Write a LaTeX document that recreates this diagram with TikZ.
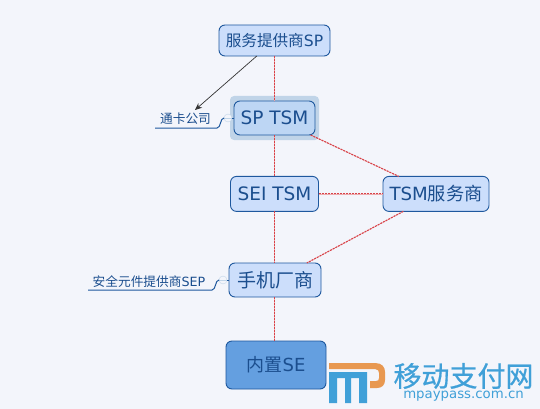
\documentclass[tikz,border=0pt]{standalone}
\usepackage{fontspec}
\setmainfont{DejaVu Sans}
\newfontfamily\cjk{Noto Sans CJK SC}
\newfontfamily\logocjk[FakeBold=0.6]{Noto Sans CJK SC}
\usetikzlibrary{arrows.meta,positioning,calc}
\definecolor{softbg}{RGB}{243,245,251}
\definecolor{softblue}{RGB}{204,222,251}
\definecolor{softtsm}{RGB}{189,214,244}
\definecolor{softhalo}{RGB}{192,212,232}
\definecolor{softse}{RGB}{100,159,224}
\definecolor{edgeblue}{RGB}{30,88,158}
\definecolor{textblue}{RGB}{27,78,142}
\definecolor{linkred}{RGB}{216,66,72}
\definecolor{logoblue}{RGB}{64,160,216}
\definecolor{logoorange}{RGB}{232,152,80}
\tikzset{
  topicbox/.style={draw=edgeblue, rounded corners=6pt, fill=softblue, text=textblue, inner sep=0pt, outer sep=0pt, line width=0.9pt},
  redlink/.style={draw=linkred, preaction={draw=linkred!45, solid}, dash pattern=on 2pt off 1pt, line width=1.1pt},
  sidelabel/.style={text=textblue, inner sep=0pt, outer sep=0pt, font=\fontsize{12.7}{12.7}\selectfont\cjk},
  sideline/.style={draw=edgeblue, line width=1pt},
  foldmark/.style={circle, draw=softhalo, fill=softbg, minimum size=8pt, inner sep=0pt, outer sep=0pt, path picture={\draw[softhalo] (path picture bounding box.west) -- (path picture bounding box.east);}}
}
\begin{document}
\begin{tikzpicture}[x=1pt, y=-1pt, node distance=40pt]
    \fill[softbg] (0,0) rectangle (540,409);
    \useasboundingbox (0,0) rectangle (540,409);
    \fill[softhalo, rounded corners=4pt] (230,96) rectangle (319,140);
    \node[topicbox, minimum width=111pt, minimum height=31pt, font=\fontsize{15.6}{15.6}\selectfont] (sp) at (274.5,40.5) {{\cjk 服务提供商}SP};
    \node[topicbox, fill=softtsm, minimum width=81pt, minimum height=34pt, below=45pt of sp, font=\fontsize{18.5}{18.5}\selectfont] (sptsm) {SP TSM};
    \node[topicbox, minimum width=88pt, minimum height=35pt, below=41.4pt of sptsm, font=\fontsize{18.5}{18.5}\selectfont] (seitsm) {SEI TSM};
    \node[topicbox, minimum width=106pt, minimum height=35pt, right=64.5pt of seitsm, font=\fontsize{18.2}{18.2}\selectfont] (tsmsp) {TSM{\cjk 服务商}};
    \node[topicbox, minimum width=92pt, minimum height=34pt, below=51.6pt of seitsm, xshift=0.5pt, font=\fontsize{19}{19}\selectfont\cjk] (phone) {手机厂商};
    \node[topicbox, fill=softse, minimum width=100pt, minimum height=48pt, below=44pt of phone, xshift=1pt, font=\fontsize{18}{18}\selectfont] (se) {{\cjk 内置}SE};
    \draw[redlink] (sp) -- (sptsm);
    \draw[redlink] (sptsm) -- (seitsm);
    \draw[redlink] (seitsm) -- (seitsm |- phone.north);
    \draw[redlink] (seitsm |- phone.south) -- (seitsm |- se.north);
    \draw[redlink] (sptsm) -- (tsmsp);
    \draw[redlink] (seitsm) -- (tsmsp);
    \draw[redlink] (tsmsp) -- (phone);
    % side labels
    \node[sidelabel] (card) at (185.5,118.5) {通卡公司};
    \node[foldmark, left=2pt of sptsm] (cardfold) {};
    \coordinate (cardend) at (155,128);
    \draw[sideline] (cardend) -- (217,128) .. controls (221,128) and (220,118) .. (cardfold.west);
    \draw[sideline] (cardfold) -- (sptsm);
    \node[sidelabel] (sep) at (149,281.5) {安全元件提供商{\normalfont SEP}};
    \node[foldmark, left=2pt of phone] (sepfold) {};
    \coordinate (sepend) at (88,290);
    \draw[sideline] (sepend) -- (212,290) .. controls (216,290) and (215,280) .. (sepfold.west);
    \draw[sideline] (sepfold) -- (phone);
    \coordinate (cardtip) at (195,110);
    \draw[-{Stealth[length=7pt,width=6pt]}, black!80, line width=0.7pt] (sp) -- (cardtip);
    % logo
    \fill[logoorange] (329,363) -- (375,363) .. controls (382,363) and (385,367) .. (385,372) -- (385,380) .. controls (385,385) and (382,388) .. (377,388) -- (370,388) -- (370,381) -- (376,381) .. controls (378,381) and (379,380) .. (379,378) -- (379,373) .. controls (379,371) and (378,369) .. (375,369) -- (329,369) -- cycle;
    \fill[logoblue] (329,372) -- (367,372) -- (367,403) -- (359,403) -- (359,378) -- (351,378) -- (351,403) -- (345,403) -- (345,378) -- (337,378) -- (337,403) -- (329,403) -- cycle;
    \node[text=logoblue, inner sep=0pt, font=\fontsize{28}{28}\selectfont\logocjk] (logotext) at (463.5,376) {移动支付网};
    \node[text=logoblue, inner sep=0pt, below=2pt of logotext, font=\fontsize{13.3}{13.3}\selectfont] (logourl) {mpaypass.com.cn};
\end{tikzpicture}
\end{document}
